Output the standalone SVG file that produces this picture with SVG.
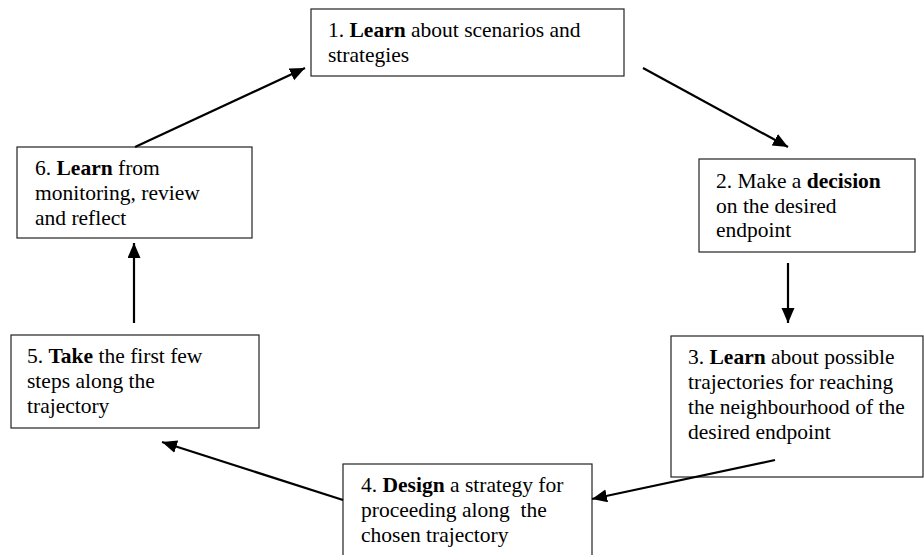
<svg xmlns="http://www.w3.org/2000/svg" width="924" height="555" viewBox="0 0 924 555">
<style>
.box{fill:#fff;stroke:#222;stroke-width:1.2}
.b{font-weight:bold}
.c{stroke:#000;stroke-width:2.2;fill:none;marker-end:url(#ah)}
</style>
<defs>
<marker id="ah" markerUnits="userSpaceOnUse" markerWidth="16" markerHeight="14" refX="15" refY="6.5" orient="auto">
<path d="M0,0 L15,6.5 L0,13 z" fill="#000"/>
</marker>
</defs>
<rect width="924" height="555" fill="#fff"/>
<g font-family="Liberation Serif, Times New Roman, serif" font-size="21.5" fill="#000">
<g id="node1">
<rect class="box" x="311" y="9" width="313" height="67"/>
<text x="328" y="37">1. <tspan class="b">Learn</tspan> about scenarios and</text>
<text x="328" y="62">strategies</text>
</g>
<g id="node2">
<rect class="box" x="699" y="159" width="216" height="93"/>
<text x="716" y="188">2. Make a <tspan class="b">decision</tspan></text>
<text x="716" y="213">on the desired</text>
<text x="716" y="237">endpoint</text>
</g>
<g id="node3">
<rect class="box" x="671" y="336" width="252" height="141"/>
<text x="688" y="364">3. <tspan class="b">Learn</tspan> about possible</text>
<text x="688" y="389">trajectories for reaching</text>
<text x="688" y="414">the neighbourhood of the</text>
<text x="688" y="439">desired endpoint</text>
</g>
<g id="node4">
<rect class="box" x="343" y="464" width="249" height="100"/>
<text x="361" y="492">4. <tspan class="b">Design</tspan> a strategy for</text>
<text x="361" y="517" xml:space="preserve">proceeding along  the</text>
<text x="361" y="542">chosen trajectory</text>
</g>
<g id="node5">
<rect class="box" x="11" y="335" width="248" height="93"/>
<text x="27" y="363">5. <tspan class="b">Take</tspan> the first few</text>
<text x="27" y="388">steps along the</text>
<text x="27" y="413">trajectory</text>
</g>
<g id="node6">
<rect class="box" x="17" y="147" width="235" height="91"/>
<text x="35" y="175">6. <tspan class="b">Learn</tspan> from</text>
<text x="35" y="200">monitoring, review</text>
<text x="35" y="225">and reflect</text>
</g>
</g>
<g id="connectors">
<line class="c" x1="643" y1="68" x2="788" y2="147"/>
<line class="c" x1="788" y1="263" x2="788" y2="323"/>
<line class="c" x1="775" y1="460" x2="592" y2="499"/>
<line class="c" x1="343" y1="500" x2="162" y2="442"/>
<line class="c" x1="134" y1="323" x2="134" y2="243"/>
<line class="c" x1="135" y1="147" x2="305" y2="68"/>
</g>
</svg>
